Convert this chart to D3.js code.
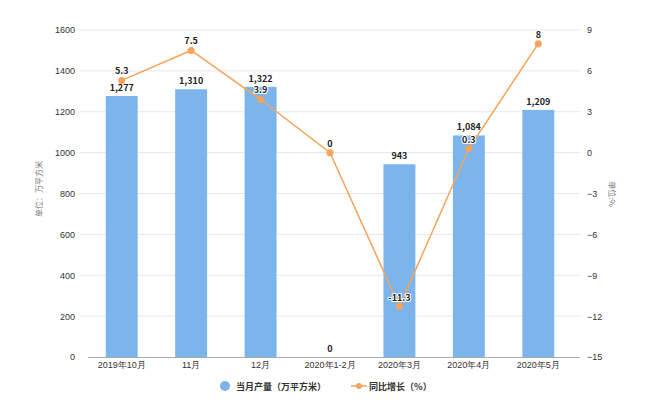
<!DOCTYPE html>
<html>
<head>
<meta charset="utf-8">
<script src="https://cdn.jsdelivr.net/npm/d3@7/dist/d3.min.js"></script>
<style>
body { margin: 0; background: #fff; }
svg { font-family: "Noto Sans CJK SC", "Noto Sans", sans-serif; }
</style>
</head>
<body>
<svg id="chart" width="650" height="420"></svg>
<script>
var categories = ['2019年10月', '11月', '12月', '2020年1-2月', '2020年3月', '2020年4月', '2020年5月'];
var output = [1277, 1310, 1322, 0, 943, 1084, 1209];
var growth = [5.3, 7.5, 3.9, 0, -11.3, 0.3, 8];
var leftTicks = [0, 200, 400, 600, 800, 1000, 1200, 1400, 1600];
var rightTicks = [-15, -12, -9, -6, -3, 0, 3, 6, 9];

var barColor = '#7cb5ec';
var lineColor = '#f7a35c';

var svg = d3.select('#chart');

var x = d3.scaleBand().domain(categories).range([87, 573]).paddingInner(0.54).paddingOuter(0.27);
var y = d3.scaleLinear().domain([0, 1600]).range([357, 30]);
var y2 = d3.scaleLinear().domain([-15, 9]).range([357, 30]);
var fmt = d3.format(',');

// grid
svg.append('g').selectAll('line')
    .data(leftTicks.slice(1))
    .enter().append('line')
    .attr('x1', 80).attr('x2', 580)
    .attr('y1', function(d) { return y(d); })
    .attr('y2', function(d) { return y(d); })
    .attr('stroke', '#e6e6e6');

// left axis
var yAxis = svg.append('g')
    .attr('transform', 'translate(80,0)')
    .call(d3.axisLeft(y).tickValues(leftTicks).tickFormat(d3.format('d')).tickSize(0).tickPadding(5));
yAxis.select('.domain').remove();
yAxis.selectAll('text').attr('fill', '#333').style('font-size', '9px');

// right axis
var yAxis2 = svg.append('g')
    .attr('transform', 'translate(580,0)')
    .call(d3.axisRight(y2).tickValues(rightTicks).tickFormat(d3.format('d')).tickSize(0).tickPadding(7));
yAxis2.select('.domain').remove();
yAxis2.selectAll('text').attr('fill', '#333').style('font-size', '9px');

// x axis
var xAxis = svg.append('g')
    .attr('transform', 'translate(0,357)')
    .call(d3.axisBottom(x).tickSize(0).tickPadding(5));
xAxis.select('.domain').attr('stroke', '#aaa').attr('d', 'M88,0.5H580');
xAxis.selectAll('text').attr('fill', '#333').style('font-size', '9px');

// axis titles
svg.append('text')
    .attr('transform', 'translate(42,189) rotate(-90)')
    .attr('text-anchor', 'middle')
    .attr('fill', '#777')
    .style('font-size', '8px')
    .text('单位：万平方米');
svg.append('text')
    .attr('transform', 'translate(609,194) rotate(90)')
    .attr('text-anchor', 'middle')
    .attr('fill', '#777')
    .style('font-size', '8px')
    .text('单位:%');

// bars
svg.append('g').selectAll('rect')
    .data(output)
    .enter().append('rect')
    .attr('x', function(d, i) { return x(categories[i]); })
    .attr('y', function(d) { return y(d); })
    .attr('width', x.bandwidth())
    .attr('height', function(d) { return 357 - y(d); })
    .attr('fill', barColor);

svg.append('g').selectAll('text')
    .data(output)
    .enter().append('text')
    .attr('x', function(d, i) { return x(categories[i]) + x.bandwidth() / 2; })
    .attr('y', function(d) { return y(d) - 5; })
    .attr('text-anchor', 'middle')
    .attr('fill', '#222')
    .style('font-size', '9px')
    .style('font-weight', 'bold')
    .text(function(d) { return fmt(d); });

// line
var line = d3.line()
    .x(function(d, i) { return x(categories[i]) + x.bandwidth() / 2; })
    .y(function(d) { return y2(d); });

svg.append('path')
    .datum(growth)
    .attr('d', line)
    .attr('fill', 'none')
    .attr('stroke', lineColor)
    .attr('stroke-width', 1.5);

svg.append('g').selectAll('circle')
    .data(growth)
    .enter().append('circle')
    .attr('cx', function(d, i) { return x(categories[i]) + x.bandwidth() / 2; })
    .attr('cy', function(d) { return y2(d); })
    .attr('r', 3.5)
    .attr('fill', lineColor);

svg.append('g').selectAll('text')
    .data(growth)
    .enter().append('text')
    .attr('x', function(d, i) { return x(categories[i]) + x.bandwidth() / 2; })
    .attr('y', function(d) { return y2(d) - 6; })
    .attr('text-anchor', 'middle')
    .attr('fill', '#222')
    .attr('stroke', '#fff')
    .attr('stroke-width', 2)
    .attr('paint-order', 'stroke')
    .style('font-size', '9px')
    .style('font-weight', 'bold')
    .text(function(d) { return d; });

// legend
var legend = svg.append('g').attr('transform', 'translate(0,386)');
legend.append('circle').attr('cx', 225).attr('cy', 0).attr('r', 5).attr('fill', barColor);
legend.append('text').attr('x', 236).attr('y', 3.5)
    .attr('fill', '#333').style('font-size', '9px').style('font-weight', 'bold')
    .text('当月产量（万平方米）');
legend.append('line').attr('x1', 351).attr('x2', 367).attr('y1', 0).attr('y2', 0)
    .attr('stroke', lineColor).attr('stroke-width', 1.5);
legend.append('circle').attr('cx', 359).attr('cy', 0).attr('r', 3).attr('fill', lineColor);
legend.append('text').attr('x', 369).attr('y', 3.5)
    .attr('fill', '#333').style('font-size', '9px').style('font-weight', 'bold')
    .text('同比增长（%）');
</script>
</body>
</html>
